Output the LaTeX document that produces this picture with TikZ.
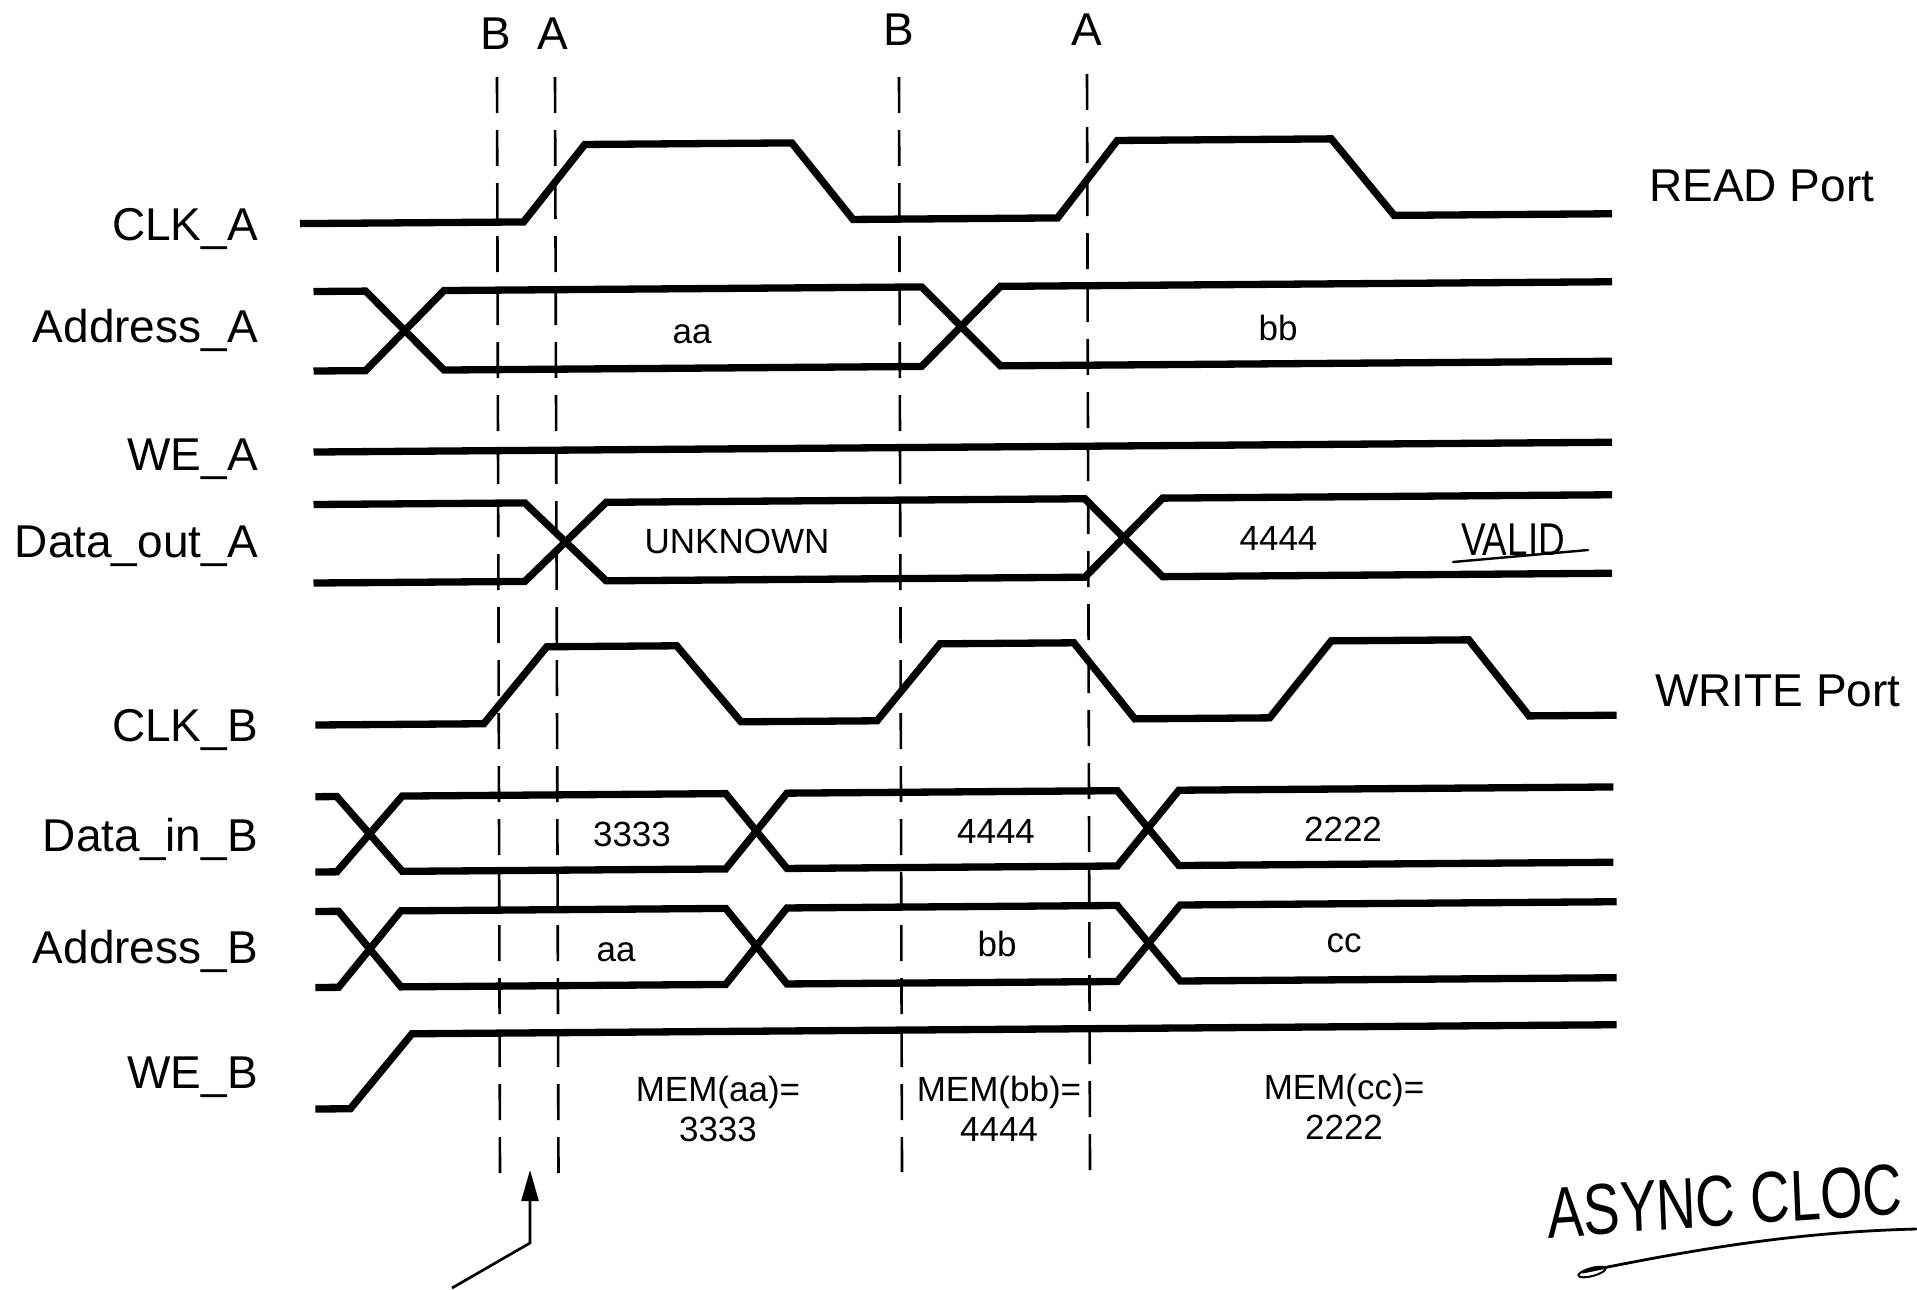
\documentclass[tikz,border=0pt]{standalone}
\usepackage{fontspec}
\setmainfont{Liberation Sans}
\usetikzlibrary{arrows.meta}
\tikzset{
  sig/.style={line width=7.3pt, line join=miter, miter limit=10},
  dashv/.style={line width=2.6pt, dash pattern=on 36pt off 17pt},
  lbl/.style={font=\fontsize{46}{50}\selectfont, inner sep=0pt},
  val/.style={font=\fontsize{35}{40}\selectfont, inner sep=0pt},
  hand/.style={line width=2.8pt, line cap=round},
}
\begin{document}
\begin{tikzpicture}[x=1pt,y=-1pt]
\fill[white] (0,0) rectangle (1917,1290);
\useasboundingbox (0,0) rectangle (1917,1290);

% dashed time markers
\draw[dashv] (497,77) -- (500,1175);
\draw[dashv] (555,77) -- (558.5,1175);
\draw[dashv] (899,77) -- (902,1172);
\draw[dashv] (1087,74) -- (1090,1172);

\node[lbl, anchor=base] (tB1) at (496,50) {B};
\node[lbl, anchor=base] (tA1) at (553,50) {A};
\node[lbl, anchor=base] (tB2) at (899,46) {B};
\node[lbl, anchor=base] (tA2) at (1087,46) {A};

% waveforms (slightly tilted like the scan)
\begin{scope}[cm={1,0.0075,0,1,(0pt,-2.3625pt)}]
% CLK_A
\draw[sig] (300,223.5) -- (523.6,223.5) -- (584.8,146.5) -- (791.8,146.5) -- (853,223.5)
  -- (1057.6,223.5) -- (1117.3,146.5) -- (1331.3,146.5) -- (1394.2,223.5) -- (1612,223.5);
% Address_A
\draw[sig] (313.5,291.5) -- (365.6,291.5) -- (444,371) -- (921.6,371) -- (1000.5,291.5) -- (1612,291.5);
\draw[sig] (313.5,371) -- (365.6,371) -- (444,291.5) -- (921.6,291.5) -- (1000.5,371) -- (1612,371);
% WE_A
\draw[sig] (313.5,452) -- (1612,452);
% Data_out_A
\draw[sig] (313.5,504.5) -- (524.8,504.5) -- (606.2,583) -- (1084.8,583) -- (1162.7,504.5) -- (1612,504.5);
\draw[sig] (313.5,583) -- (524.8,583) -- (606.2,504.5) -- (1084.8,504.5) -- (1162.7,583) -- (1612,583);
% CLK_B
\draw[sig] (315.4,725) -- (483.8,725) -- (546.8,648.5) -- (676.7,648.5) -- (741,725) -- (877,725)
  -- (940,648.5) -- (1073.8,648.5) -- (1134.8,725) -- (1269.7,725) -- (1331.3,648.5)
  -- (1468.8,648.5) -- (1529,725) -- (1616.7,725);
% Data_in_B
\draw[sig] (315.4,796.7) -- (336.8,796.7) -- (402.3,872) -- (725.7,872) -- (787,796.7) -- (1117.3,796.7) -- (1178.9,872) -- (1613.4,872);
\draw[sig] (315.4,872) -- (336.8,872) -- (402.3,796.7) -- (725.7,796.7) -- (787,872) -- (1117.3,872) -- (1178.9,796.7) -- (1613.4,796.7);
% Address_B
\draw[sig] (315.4,911.5) -- (338.6,911.5) -- (401,987.5) -- (725.7,987.5) -- (787,911.5) -- (1117.3,911.5) -- (1180.2,987.5) -- (1616.7,987.5);
\draw[sig] (315.4,987.5) -- (338.6,987.5) -- (401,911.5) -- (725.7,911.5) -- (787,987.5) -- (1117.3,987.5) -- (1180.2,911.5) -- (1616.7,911.5);
% WE_B
\draw[sig] (315.4,1109) -- (350.3,1109) -- (412,1034.5) -- (1616.7,1034.5);
\end{scope}

% signal names
\node[lbl, anchor=base east] (nCLKA) at (258,240) {CLK\_A};
\node[lbl, anchor=base east] (nADDRA) at (258,342) {Address\_A};
\node[lbl, anchor=base east] (nWEA) at (258,470) {WE\_A};
\node[lbl, anchor=base east] (nDOA) at (258,557) {Data\_out\_A};
\node[lbl, anchor=base east] (nCLKB) at (258,741) {CLK\_B};
\node[lbl, anchor=base east] (nDIB) at (258,851) {Data\_in\_B};
\node[lbl, anchor=base east] (nADDRB) at (258,963) {Address\_B};
\node[lbl, anchor=base east] (nWEB) at (258,1088) {WE\_B};

\node[lbl, anchor=base west] (read) at (1649,201) {READ Port};
\node[lbl, anchor=base west] (write) at (1655,706) {WRITE Port};

% values
\node[val, anchor=base] (vaa1) at (692,343) {aa};
\node[val, anchor=base] (vbb1) at (1278,340) {bb};
\node[val, anchor=base] (vunk) at (737,553.5) {UNKNOWN};
\node[val, anchor=base] (v4a) at (1278.5,550.6) {4444};
\node[val, anchor=base] (v3b) at (632,846) {3333};
\node[val, anchor=base] (v4b) at (996,843) {4444};
\node[val, anchor=base] (v2b) at (1343,841) {2222};
\node[val, anchor=base] (vaa2) at (616,961) {aa};
\node[val, anchor=base] (vbb2) at (997,956) {bb};
\node[val, anchor=base] (vcc2) at (1344,952) {cc};

\node[val, anchor=base] (mema1) at (718,1101) {MEM(aa)=};
\node[val, anchor=base] (mema2) at (718,1141) {3333};
\node[val, anchor=base] (memb1) at (999,1101) {MEM(bb)=};
\node[val, anchor=base] (memb2) at (999,1141) {4444};
\node[val, anchor=base] (memc1) at (1344,1099) {MEM(cc)=};
\node[val, anchor=base] (memc2) at (1344,1139) {2222};

% handwritten VALID
\node[lbl, anchor=base west, xscale=0.8] (valid) at (1461,555) {VALID};
\coordinate (vu1) at (1453,562);
\coordinate (vu2) at (1588,550);
\draw[hand, line width=2.4pt] (vu1) -- (vu2);

% pointer arrow
\coordinate (arrA) at (452,1288);
\coordinate (arrB) at (530,1243);
\coordinate (arrC) at (530,1170);
\draw[line width=2.7pt, -{Triangle[length=31pt,width=17pt]}] (arrA) -- (arrB) -- (arrC);

% handwritten ASYNC CLOC (cut off at the edge in the scan)
\node[font=\fontsize{72}{76}\selectfont, inner sep=0pt, anchor=base west, xscale=0.76, rotate=3] (async) at (1548,1238) {ASYNC CLOC};
\coordinate (sw1) at (1583,1272);
\coordinate (sw2) at (1916,1229);
\draw[hand] (sw1) .. controls (1700,1248) and (1800,1232) .. (sw2);
\draw[hand, line width=2pt, rotate around={15:(1592,1272)}] (1592,1272) ellipse [x radius=14, y radius=4];
\end{tikzpicture}
\end{document}
